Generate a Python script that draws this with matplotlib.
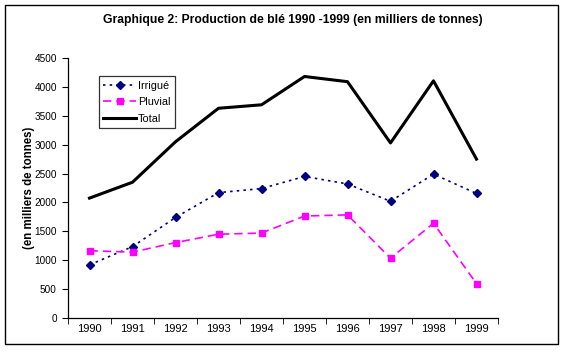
import matplotlib

matplotlib.use("Agg")
import matplotlib.pyplot as plt
from matplotlib.patches import Rectangle

plt.rcParams["font.family"] = ["Liberation Sans", "DejaVu Sans"]

years = ["1990", "1991", "1992", "1993", "1994", "1995", "1996", "1997", "1998", "1999"]
irrigue = [920, 1235, 1740, 2170, 2240, 2450, 2320, 2020, 2490, 2155]
pluvial = [1165, 1140, 1305, 1450, 1470, 1765, 1785, 1035, 1640, 595]
total = [2075, 2350, 3050, 3630, 3690, 4180, 4090, 3030, 4105, 2750]

fig = plt.figure(figsize=(5.64, 3.59), dpi=100)
ax = fig.add_axes([68 / 564, 1 - 318 / 359, 430 / 564, 260 / 359])

x = list(range(len(years)))
ax.plot(x, irrigue, color="#000080", linestyle=(0, (1.5, 2.5)), linewidth=1.2,
        marker="D", markersize=4.5, label="Irrigué")
ax.plot(x, pluvial, color="#FF00FF", linestyle=(0, (5, 3)), linewidth=1.2,
        marker="s", markersize=5, label="Pluvial")
ax.plot(x, total, color="black", linewidth=2.2, label="Total")

ax.set_xlim(-0.5, len(years) - 0.5)
ax.set_ylim(0, 4500)
ax.set_yticks(range(0, 4501, 500))
ax.set_xticks(x)
ax.set_xticklabels(years)
ax.set_xticks([i - 0.5 for i in range(len(years) + 1)], minor=True)
ax.tick_params(axis="x", which="major", length=0, labelsize=8, pad=4)
ax.tick_params(axis="x", which="minor", length=4, direction="out")
ax.tick_params(axis="y", length=4, direction="out", labelsize=7.2, pad=4)
for side in ("top", "right"):
    ax.spines[side].set_visible(False)
for side in ("left", "bottom"):
    ax.spines[side].set_linewidth(0.9)

ax.set_ylabel("(en milliers de tonnes)", fontsize=8.3, fontweight="bold")
ax.yaxis.set_label_coords(-0.076, 0.5)

leg = ax.legend(loc="upper left", bbox_to_anchor=(0.072, 0.93), fontsize=7.8,
                frameon=True, fancybox=False, edgecolor="black", handlelength=3.0,
                borderpad=0.4, labelspacing=0.6, handletextpad=0.2,
                borderaxespad=0)
leg.get_frame().set_linewidth(0.9)

fig.text(0.52, 1 - 20 / 359, "Graphique 2: Production de blé 1990 -1999 (en milliers de tonnes)",
         ha="center", va="center", fontsize=8.7, fontweight="bold")

fig.patches.append(Rectangle((5 / 564, 1 - 344 / 359), 553 / 564, 339 / 359,
                             transform=fig.transFigure, fill=False,
                             edgecolor="black", linewidth=1))

fig.savefig("out.png", dpi=100)
